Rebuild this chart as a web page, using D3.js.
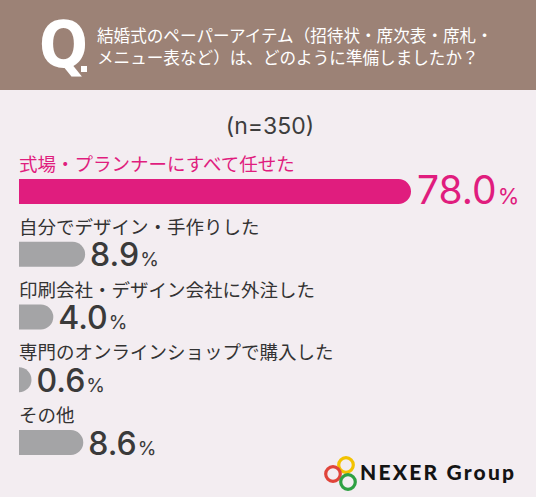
<!DOCTYPE html>
<html><head><meta charset="utf-8">
<script src="https://cdn.jsdelivr.net/npm/d3@7"></script>
<style>
html,body{margin:0;padding:0;background:#f3edf1;}
svg{display:block;}
</style></head>
<body>
<script>
const titleLines = ["結婚式のペーパーアイテム（招待状・席次表・席札・", "メニュー表など）は、どのように準備しましたか？"];
const sampleLabel = "(n=350)";
const categories = ["式場・プランナーにすべて任せた", "自分でデザイン・手作りした", "印刷会社・デザイン会社に外注した", "専門のオンラインショップで購入した", "その他"];
const values = [78.0, 8.9, 4.0, 0.6, 8.6];
const highlight = [true, false, false, false, false];

const W = 536, H = 497;
const svg = d3.select("body").append("svg").attr("width", W).attr("height", H);
svg.append("rect").attr("width", W).attr("height", H).attr("fill", "#f3edf1");

// header
svg.append("rect").attr("x", 0).attr("y", 0).attr("width", W).attr("height", 90).attr("fill", "#9c8276");
svg.append("text").attr("x", 39).attr("y", 67)
  .attr("font-family", "'Liberation Sans Narrow','DejaVu Sans Condensed',sans-serif")
  .attr("font-weight", 700).attr("font-size", 64).attr("fill", "#fff").text("Q");
svg.append("rect").attr("x", 81).attr("y", 66).attr("width", 6).attr("height", 6).attr("fill", "#fff");
svg.selectAll("text.title").data(titleLines).join("text").attr("class", "title")
  .attr("x", 97).attr("y", (d, i) => 41.5 + i * 22.5)
  .attr("font-family", "'Noto Sans CJK JP',sans-serif").attr("font-size", 16.6)
  .attr("fill", "#fff").text(d => d);

// n label
svg.append("text").attr("x", 270).attr("y", 134).attr("text-anchor", "middle")
  .attr("font-family", "Inter,sans-serif").attr("font-size", 23).attr("fill", "#3d3d3d").text(sampleLabel);

// scales
const x0 = 19;
const x = d3.scalePow().exponent(0.82).domain([0, 78]).range([0, 392]);
const y = d3.scalePoint().domain(categories).range([179, 430]);
const bh = 25, r = bh / 2;
const pink = "#e01d7e", gray = "#a4a4a6";

function barPath(w, top) {
  w = Math.max(w, r);
  return `M${x0},${top}H${x0 + w - r}A${r},${r} 0 0 1 ${x0 + w},${top + r}A${r},${r} 0 0 1 ${x0 + w - r},${top + bh}H${x0}Z`;
}

const rows = categories.map((c, i) => ({c, v: values[i], hi: highlight[i]}));
const g = svg.selectAll("g.row").data(rows).join("g").attr("class", "row");

g.append("text")
  .attr("x", x0).attr("y", d => y(d.c) - 8)
  .attr("font-family", "'Noto Sans CJK JP',sans-serif").attr("font-size", 18.5)
  .attr("fill", d => d.hi ? pink : "#333").text(d => d.c);

g.append("path").attr("d", d => barPath(x(d.v), y(d.c))).attr("fill", d => d.hi ? pink : gray);

const vt = g.append("text")
  .attr("x", d => x0 + Math.max(x(d.v), r) + (d.hi ? 6 : 5))
  .attr("y", d => y(d.c) + 24.5)
  .attr("font-family", "Inter,sans-serif")
  .attr("fill", d => d.hi ? pink : "#3a3a3a");
vt.append("tspan").attr("font-size", d => d.hi ? 39 : 32).attr("font-weight", d => d.hi ? 400 : 500)
  .text(d => d.v.toFixed(1));
vt.append("tspan").attr("font-size", d => d.hi ? 22 : 19).attr("dx", 1).attr("font-weight", 400).text("%");

// logo
const logo = svg.append("g");
[[346, 465, "#f2c200"], [333, 474, "#e0443a"], [348, 482, "#2ea043"]].forEach(([cx, cy, col]) => {
  logo.append("circle").attr("cx", cx).attr("cy", cy).attr("r", 7.3).attr("fill", "none")
    .attr("stroke", col).attr("stroke-width", 3.2);
});
logo.append("text").attr("x", 360).attr("y", 480)
  .attr("font-family", "Lato,sans-serif").attr("font-weight", 900).attr("font-size", 21)
  .attr("textLength", 154).attr("lengthAdjust", "spacing")
  .attr("fill", "#141414").text("NEXER Group");
</script>
</body></html>
